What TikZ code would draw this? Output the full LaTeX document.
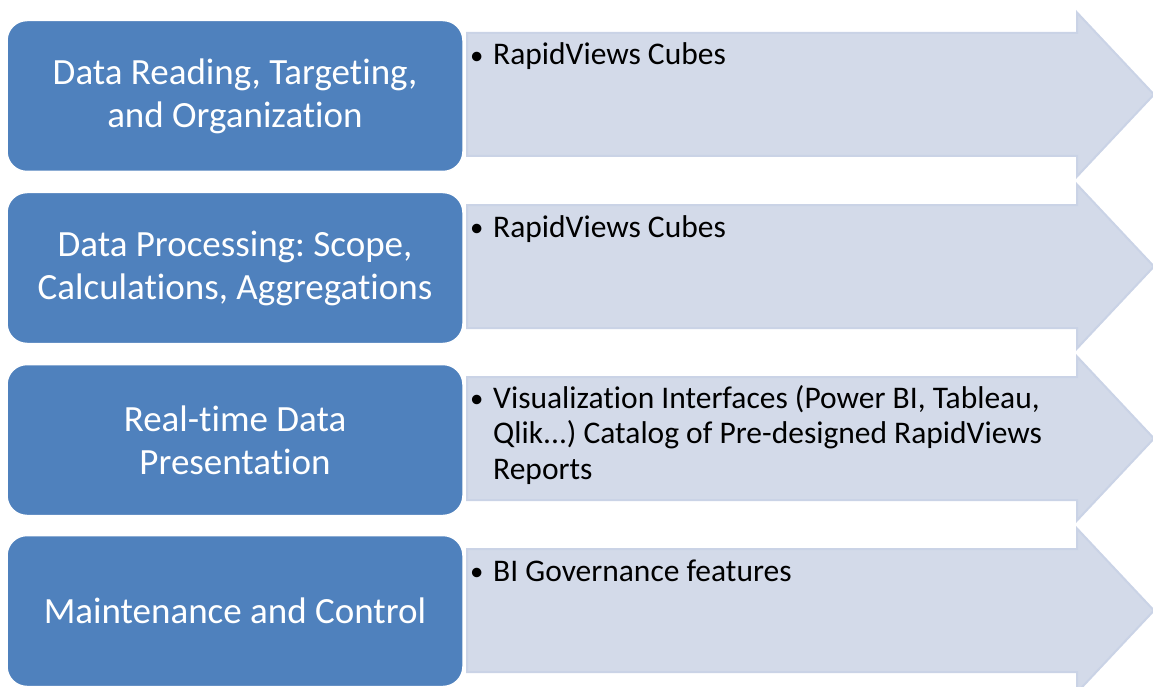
\documentclass[tikz,border=0pt]{standalone}
\usepackage{fontspec}
\setmainfont{Carlito}[Ligatures=NoCommon]
\definecolor{stageblue}{HTML}{4F81BD}
\definecolor{arrowfill}{HTML}{D3DAE9}
\definecolor{arrowedge}{HTML}{CAD3E6}
\newcommand{\dotmark}{\makebox[23pt][l]{\raisebox{0.5pt}{\scalebox{0.85}{•}}}}
\begin{document}
\frenchspacing
\begin{tikzpicture}[x=1pt,y=-1pt,
  stagebox/.style={draw=white, line width=1.5pt, fill=stageblue, rounded corners=20pt,
    minimum width=456pt, minimum height=151pt, text=white, align=center,
    font=\fontsize{37}{43}\selectfont, inner sep=0pt},
  arrowbody/.style={fill=arrowfill, draw=arrowedge, line width=2pt, line join=miter},
  detail/.style={anchor=base west, align=left, text=black,
    font=\fontsize{31.5}{35.5}\selectfont, inner sep=0pt}]
\useasboundingbox (0,0) rectangle (1153,687);
% block arrows behind each stage
\foreach \t in {19,191,363,535}{
  \pgfmathsetmacro{\c}{\t+75.5}
  \draw[arrowbody] (467,\t+14) -- (1077,\t+14) -- (1077,\c-82) -- (1154,\c)
    -- (1077,\c+82) -- (1077,\t+137) -- (467,\t+137) -- cycle;
}
% stage boxes
\node[stagebox] (box1) at (235,96) {Data Reading, Targeting,\\and Organization};
\node[stagebox] (box2) at (235,268) {Data Processing: Scope,\\Calculations, Aggregations};
\node[stagebox] (box3) at (235,440) {Real-time Data\\Presentation};
\node[stagebox] (box4) at (235,611) {Maintenance and Control};
% bullet details (base anchor sits on the last line)
\node[detail] (txt1) at (470,65) {\dotmark RapidViews Cubes};
\node[detail] (txt2) at (470,237) {\dotmark RapidViews Cubes};
\node[detail] (txt3) at (470,479) {\dotmark Visualization Interfaces (Power BI, Tableau,\\
  \hspace*{23pt}Qlik...) Catalog of Pre-designed RapidViews\\
  \hspace*{23pt}Reports};
\node[detail] (txt4) at (470,581) {\dotmark BI Governance features};
\end{tikzpicture}
\end{document}
